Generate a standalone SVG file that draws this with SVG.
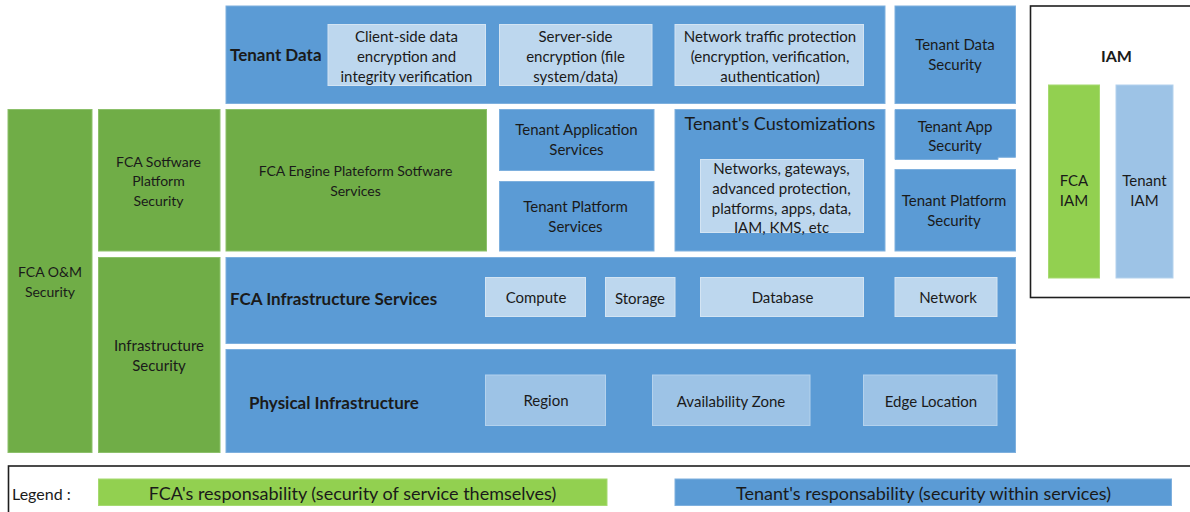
<svg xmlns="http://www.w3.org/2000/svg" width="1190" height="512" viewBox="0 0 1190 512">
  <style>
    .blue { fill: #5b9bd5; stroke: #7eb0de; stroke-width: 1; }
    .green { fill: #70ad47; stroke: #8cc06a; stroke-width: 1; }
    .lgreen { fill: #92d050; stroke: #a6da70; stroke-width: 1; }
    .pale { fill: #bdd7ee; stroke: #d3e4f3; stroke-width: 1; }
    .mid { fill: #9dc3e6; stroke: #b4d2ed; stroke-width: 1; }
    .frame { fill: none; stroke: #1e1e1e; stroke-width: 1.6; }
    text { font-family: Lato, "Open Sans", "Liberation Sans", sans-serif; fill: #1a1a1a; dominant-baseline: central; }
    .t { font-size: 15px; text-anchor: middle; }
    .s { font-size: 14px; }
    .b { font-size: 17px; font-weight: bold; }
    .c { text-anchor: middle; }
    .lg { font-size: 18px; text-anchor: middle; }
  </style>

  <!-- left-hand security columns -->
  <g id="fca-om-security">
    <rect class="green" x="8" y="109.5" width="84" height="343"/>
    <text class="t s" x="50" y="271">FCA O&amp;M</text>
    <text class="t s" x="50" y="291">Security</text>
  </g>
  <g id="fca-software-platform-security">
    <rect class="green" x="98.5" y="109.5" width="121.5" height="141.5"/>
    <text class="t s" x="158.5" y="161">FCA Sotfware</text>
    <text class="t s" x="158.5" y="180.5">Platform</text>
    <text class="t s" x="158.5" y="200">Security</text>
  </g>
  <g id="infrastructure-security">
    <rect class="green" x="98.5" y="257.5" width="121.5" height="195"/>
    <text class="t" x="159" y="345">Infrastructure</text>
    <text class="t" x="159" y="365">Security</text>
  </g>

  <!-- tenant data layer -->
  <g id="tenant-data">
    <rect class="blue" x="226" y="6" width="659" height="97.5"/>
    <text class="b" x="230" y="54.5">Tenant Data</text>
  </g>
  <g id="client-side-encryption">
    <rect class="pale" x="328" y="24.5" width="157.5" height="61"/>
    <text class="t" x="406.5" y="35.5">Client-side data</text>
    <text class="t" x="406.5" y="55.5">encryption and</text>
    <text class="t" x="406.5" y="75.5">integrity verification</text>
  </g>
  <g id="server-side-encryption">
    <rect class="pale" x="499.5" y="24.5" width="152.5" height="61"/>
    <text class="t" x="575.5" y="35.5">Server-side</text>
    <text class="t" x="575.5" y="55.5">encryption (file</text>
    <text class="t" x="575.5" y="75.5">system/data)</text>
  </g>
  <g id="network-traffic-protection">
    <rect class="pale" x="675" y="24.5" width="188.5" height="61"/>
    <text class="t" x="770" y="35.5">Network traffic protection</text>
    <text class="t" x="770" y="55.5">(encryption, verification,</text>
    <text class="t" x="770" y="75.5">authentication)</text>
  </g>
  <g id="tenant-data-security">
    <rect class="blue" x="895" y="6" width="120.5" height="97.5"/>
    <text class="t" x="955" y="43.5">Tenant Data</text>
    <text class="t" x="955" y="63.5">Security</text>
  </g>

  <!-- platform / application layer -->
  <g id="fca-engine-platform">
    <rect class="green" x="226" y="109.5" width="260.5" height="141.5"/>
    <text class="t s" x="355.5" y="170.5">FCA Engine Plateform Sotfware</text>
    <text class="t s" x="355.5" y="190.5">Services</text>
  </g>
  <g id="tenant-application-services">
    <rect class="blue" x="499.5" y="109.5" width="154.5" height="61"/>
    <text class="t" x="576.5" y="129">Tenant Application</text>
    <text class="t" x="576.5" y="148.5">Services</text>
  </g>
  <g id="tenant-platform-services">
    <rect class="blue" x="499.5" y="181.5" width="154.5" height="69.5"/>
    <text class="t" x="575.5" y="205.5">Tenant Platform</text>
    <text class="t" x="575.5" y="225.5">Services</text>
  </g>
  <g id="tenant-customizations">
    <rect class="blue" x="675" y="109.5" width="210" height="141.5"/>
    <text class="lg" x="780" y="122.5">Tenant's Customizations</text>
    <rect class="pale" x="700.5" y="159.5" width="163" height="73"/>
    <text class="t" x="781.5" y="167.5">Networks, gateways,</text>
    <text class="t" x="781.5" y="187.5">advanced protection,</text>
    <text class="t" x="781.5" y="207.5">platforms, apps, data,</text>
    <text class="t" x="781.5" y="227">IAM, KMS, etc</text>
  </g>
  <g id="tenant-app-security">
    <path class="blue" d="M895 109.5 H1015.5 V157.3 H998 V159.5 H895 Z"/>
    <text class="t" x="955" y="125.5">Tenant App</text>
    <text class="t" x="955" y="145">Security</text>
  </g>
  <g id="tenant-platform-security">
    <rect class="blue" x="895" y="169.5" width="120.5" height="81.5"/>
    <text class="t" x="954" y="200">Tenant Platform</text>
    <text class="t" x="954" y="220">Security</text>
  </g>

  <!-- infrastructure services layer -->
  <g id="fca-infrastructure-services">
    <rect class="blue" x="226" y="257.5" width="789.5" height="86"/>
    <text class="b" x="230" y="298">FCA Infrastructure Services</text>
  </g>
  <g id="compute">
    <rect class="pale" x="485.5" y="277.5" width="100" height="39"/>
    <text class="t" x="536" y="297">Compute</text>
  </g>
  <g id="storage">
    <rect class="pale" x="605.5" y="277.5" width="69.5" height="39"/>
    <text class="t" x="640" y="297.5">Storage</text>
  </g>
  <g id="database">
    <rect class="pale" x="700.5" y="277.5" width="163" height="39"/>
    <text class="t" x="782.5" y="297">Database</text>
  </g>
  <g id="network">
    <rect class="pale" x="895" y="277.5" width="102" height="39"/>
    <text class="t" x="948" y="297">Network</text>
  </g>

  <!-- physical layer -->
  <g id="physical-infrastructure">
    <rect class="blue" x="226" y="349.5" width="789.5" height="103"/>
    <text class="b" x="249" y="402">Physical Infrastructure</text>
  </g>
  <g id="region">
    <rect class="mid" x="485.5" y="375" width="120" height="50.5"/>
    <text class="t" x="546" y="400">Region</text>
  </g>
  <g id="availability-zone">
    <rect class="mid" x="652.5" y="375" width="157.5" height="50.5"/>
    <text class="t" x="731" y="401">Availability Zone</text>
  </g>
  <g id="edge-location">
    <rect class="mid" x="863.5" y="375" width="133.5" height="50.5"/>
    <text class="t" x="931" y="401">Edge Location</text>
  </g>

  <!-- IAM panel -->
  <g id="iam">
    <rect class="frame" x="1030.5" y="6" width="170" height="291.5"/>
    <text class="b c" x="1116.5" y="55.5" style="font-size:16px">IAM</text>
  </g>
  <g id="fca-iam">
    <rect class="lgreen" x="1048.5" y="85" width="51" height="193"/>
    <text class="t" x="1074" y="180">FCA</text>
    <text class="t" x="1074" y="200">IAM</text>
  </g>
  <g id="tenant-iam">
    <rect class="mid" x="1116" y="85" width="57" height="193"/>
    <text class="t" x="1144.5" y="180">Tenant</text>
    <text class="t" x="1144.5" y="200">IAM</text>
  </g>

  <!-- legend -->
  <g id="legend">
    <rect class="frame" x="8.5" y="466" width="1195" height="60"/>
    <text x="12" y="493" style="font-size:16px">Legend :</text>
    <rect class="lgreen" x="98.5" y="479" width="508.5" height="26.5"/>
    <text class="lg" x="352.5" y="492.5">FCA's responsability (security of service themselves)</text>
    <rect class="blue" x="675" y="479" width="496.5" height="26.5"/>
    <text class="lg" x="923.5" y="492.5">Tenant's responsability (security within services)</text>
  </g>

  <g id="connectors"/>
</svg>
